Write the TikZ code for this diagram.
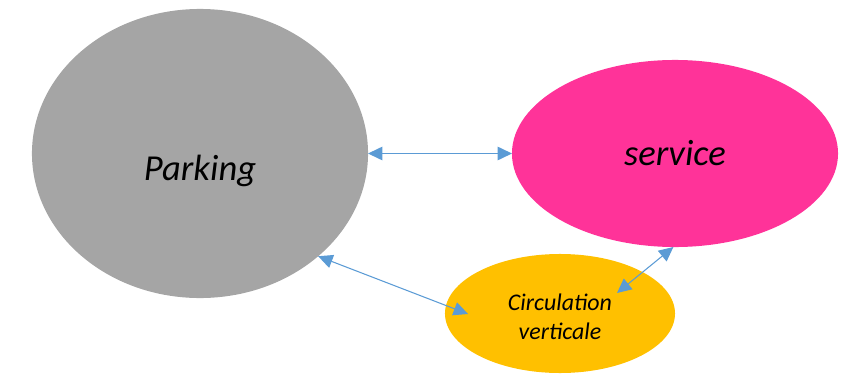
\documentclass[tikz,border=0pt]{standalone}
\usepackage{fontspec}
\setmainfont{Carlito}
\usetikzlibrary{arrows.meta,shapes.geometric}
\definecolor{parkgray}{HTML}{A5A5A5}
\definecolor{servpink}{HTML}{FF3399}
\definecolor{circorange}{HTML}{FFC000}
\definecolor{linkblue}{HTML}{5B9BD5}

\begin{document}
\begin{tikzpicture}[x=0.025cm, y=-0.025cm,
	zone/.style={ellipse, inner sep=0pt, outer sep=0pt},
	big/.style={font=\itshape\fontsize{26}{31}\selectfont},
	small/.style={font=\itshape\fontsize{17}{20.5}\selectfont, align=center},
	link/.style={{Triangle[length=3.6mm,width=3.4mm]}-{Triangle[length=3.6mm,width=3.4mm]}, draw=linkblue, line width=0.75pt}]
	\useasboundingbox (0,0) rectangle (850,375);
	% the three zones
	\node[zone, fill=parkgray, minimum width=8.4cm, minimum height=7.225cm] (park) at (200,153.5) {};
	\node[big] (parktxt) at (200,171) {Parking};
	\node[zone, fill=servpink, minimum width=8.15cm, minimum height=4.675cm, big] (serv) at (675,153.5) {service};
	\node[zone, fill=circorange, minimum width=5.75cm, minimum height=2.975cm] (circ) at (560,313.5) {};
	\node[small] (circtxt) at (560,317) {Circulation\\verticale};
	% free ends inside the orange zone
	\coordinate (circin) at (468,314);
	\coordinate (circup) at (617,293);
	% links
	\draw[link] (park.east) -- (serv.west);
	\draw[link] (park.-41) -- (circin);
	\draw[link] (serv.-91) -- (circup);
\end{tikzpicture}
\end{document}
